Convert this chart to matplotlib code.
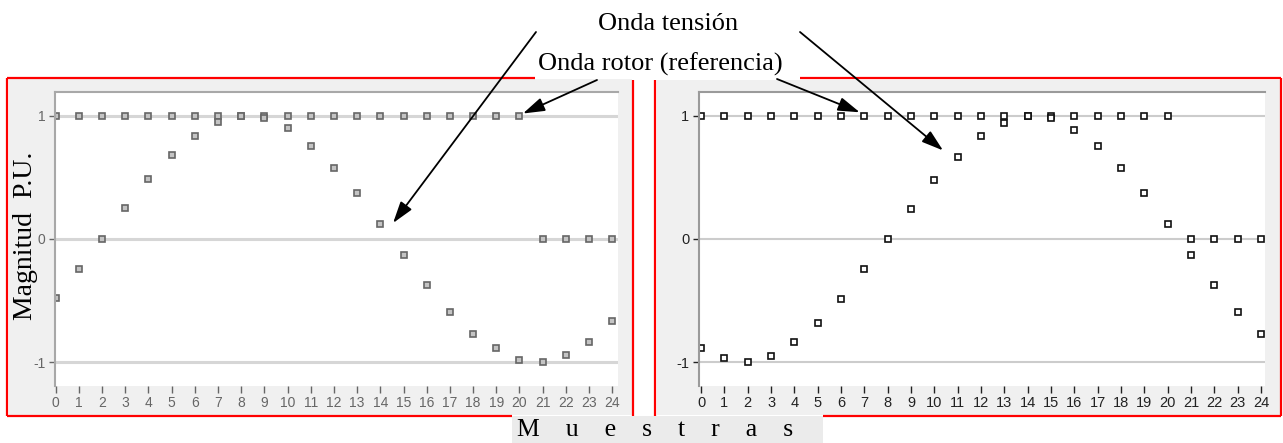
"""Recreate the two-panel rotor / voltage waveform sample comparison."""

from __future__ import annotations

import matplotlib

matplotlib.use("Agg")
import matplotlib.pyplot as plt
from matplotlib.patches import Rectangle

WIDTH_PX = 1283
HEIGHT_PX = 443
DPI = 100

SAMPLES = list(range(25))
ROTOR_LEFT = [1, 1, 1, 1, 1, 1, 1, 1, 1, 1, 1, 1, 1, 1, 1, 1, 1, 1, 1, 1, 1, 0, 0, 0, 0]
TENSION_LEFT = [
    -0.48, -0.24, 0.0, 0.25, 0.49, 0.68, 0.84, 0.95, 1.0, 0.98, 0.90, 0.76, 0.58,
    0.37, 0.12, -0.13, -0.37, -0.59, -0.77, -0.89, -0.98, -1.0, -0.94, -0.84, -0.67,
]
ROTOR_RIGHT = [1, 1, 1, 1, 1, 1, 1, 1, 1, 1, 1, 1, 1, 1, 1, 1, 1, 1, 1, 1, 1, 0, 0, 0, 0]
TENSION_RIGHT = [
    -0.89, -0.97, -1.0, -0.95, -0.84, -0.68, -0.49, -0.24, 0.0, 0.24, 0.48, 0.67, 0.84,
    0.94, 1.0, 0.98, 0.89, 0.76, 0.58, 0.37, 0.12, -0.13, -0.37, -0.59, -0.77,
]
Y_TICKS = [-1, 0, 1]
X_TICK_LABELS = [str(s) for s in SAMPLES]

SERIF = ["Liberation Serif", "DejaVu Serif"]
SANS = ["Liberation Sans", "DejaVu Sans"]
RED = "#ff0000"
PANEL_FACE = "#f0f0f0"


def px_axes(fig, x0, y0, x1, y1, **kwargs):
    """Add axes from pixel corners measured top-down on the target image."""
    return fig.add_axes(
        [x0 / WIDTH_PX, 1 - y1 / HEIGHT_PX, (x1 - x0) / WIDTH_PX, (y1 - y0) / HEIGHT_PX],
        **kwargs,
    )


def style_panel(ax, *, xlim, ink, frame, grid_color, grid_lw, label_size):
    ax.set_xlim(*xlim)
    ax.set_ylim(-1.195, 1.195)
    ax.set_xticks(SAMPLES, X_TICK_LABELS)
    ax.set_yticks(Y_TICKS, [str(v) for v in Y_TICKS])
    ax.set_axisbelow(True)
    ax.yaxis.grid(True, color=grid_color, linewidth=grid_lw)
    for side in ("bottom", "right"):
        ax.spines[side].set_visible(False)
    for side in ("top", "left"):
        ax.spines[side].set_color(frame)
        ax.spines[side].set_linewidth(1.5)
    ax.tick_params(axis="x", length=5, width=1, pad=2, color=ink, labelcolor=ink,
                   labelsize=label_size)
    ax.tick_params(axis="y", length=4, width=1, pad=3, color=ink, labelcolor=ink,
                   labelsize=label_size)
    ax.set_facecolor("white")


def frame_lines(ax, segments):
    for xs, ys in segments:
        ax.plot(xs, ys, color=RED, linewidth=1.6, solid_capstyle="butt")


def main() -> int:
    plt.rcParams["font.family"] = SANS
    fig = plt.figure(figsize=(WIDTH_PX / DPI, HEIGHT_PX / DPI), dpi=DPI)

    # background layer in pixel coordinates: grey panels and red frames
    bg = fig.add_axes([0, 0, 1, 1], zorder=0)
    bg.set_xlim(0, WIDTH_PX)
    bg.set_ylim(HEIGHT_PX, 0)
    bg.set_axis_off()
    bg.add_patch(Rectangle((9, 79), 623, 336, facecolor=PANEL_FACE, edgecolor="none"))
    bg.add_patch(Rectangle((657, 80), 623, 335, facecolor=PANEL_FACE, edgecolor="none"))
    frame_lines(bg, [
        ([7, 535], [78, 78]), ([7, 7], [78, 416]), ([633, 633], [80, 416]),
        ([7, 512], [416, 416]),
        ([800, 1281], [78, 78]), ([655, 655], [80, 416]), ([1281, 1281], [78, 416]),
        ([823, 1281], [416, 416]),
    ])
    bg.add_patch(Rectangle((512, 416), 311, 27, facecolor="#ebebeb", edgecolor="none"))
    bg.text(655, 430, "M    u    e    s    t    r    a    s", ha="center", va="center",
            fontsize=18.5, family=SERIF, color="black")
    bg.text(26, 236, "Magnitud  P.U.", rotation=90, ha="center", va="center",
            fontsize=20, family=SERIF, color="black")

    ax_l = px_axes(fig, 55, 92, 618, 386, zorder=2)
    style_panel(ax_l, xlim=(-0.03, 24.25), ink="#666666", frame="#a8a8a8",
                grid_color="#d6d6d6", grid_lw=2.2, label_size=10)
    grey_marker = dict(linestyle="none", marker="s", markersize=5,
                       markerfacecolor="#c4c4c4", markeredgecolor="#666666",
                       markeredgewidth=1.2)
    ax_l.plot(SAMPLES, ROTOR_LEFT, **grey_marker)
    ax_l.plot(SAMPLES, TENSION_LEFT, **grey_marker)

    ax_r = px_axes(fig, 699, 92, 1265, 386, zorder=2)
    style_panel(ax_r, xlim=(-0.09, 24.17), ink="#222222", frame="#9a9a9a",
                grid_color="#cccccc", grid_lw=1.5, label_size=10.5)
    open_marker = dict(linestyle="none", marker="s", markersize=5,
                       markerfacecolor="white", markeredgecolor="#111111",
                       markeredgewidth=1.2)
    ax_r.plot(SAMPLES, ROTOR_RIGHT, **open_marker)
    ax_r.plot(SAMPLES, TENSION_RIGHT, **open_marker)

    # foreground layer: callout labels and arrows
    fg = fig.add_axes([0, 0, 1, 1], zorder=10)
    fg.set_xlim(0, WIDTH_PX)
    fg.set_ylim(HEIGHT_PX, 0)
    fg.set_axis_off()
    fg.patch.set_visible(False)
    fg.text(668, 24, "Onda tensión", ha="center", va="center", fontsize=19,
            family=SERIF, color="black")
    fg.text(660, 64, "Onda rotor (referencia)", ha="center", va="center", fontsize=19,
            family=SERIF, color="black")
    arrow = dict(arrowstyle="-|>,head_length=1.2,head_width=0.38", color="black",
                 linewidth=1.3, shrinkA=0, shrinkB=0, mutation_scale=11)
    callouts = [
        ((536, 32), (14.55, 0.13), ax_l),
        ((800, 32), (10.37, 0.72), ax_r),
        ((597, 80), (20.15, 1.02), ax_l),
        ((777, 79), (6.8, 1.03), ax_r),
    ]
    for tail, head, target in callouts:
        fg.annotate("", xy=head, xycoords=target.transData, xytext=tail,
                    textcoords="data", arrowprops=arrow, annotation_clip=False)

    fig.savefig("out.png", dpi=DPI)
    plt.close(fig)
    return 0


if __name__ == "__main__":
    raise SystemExit(main())
